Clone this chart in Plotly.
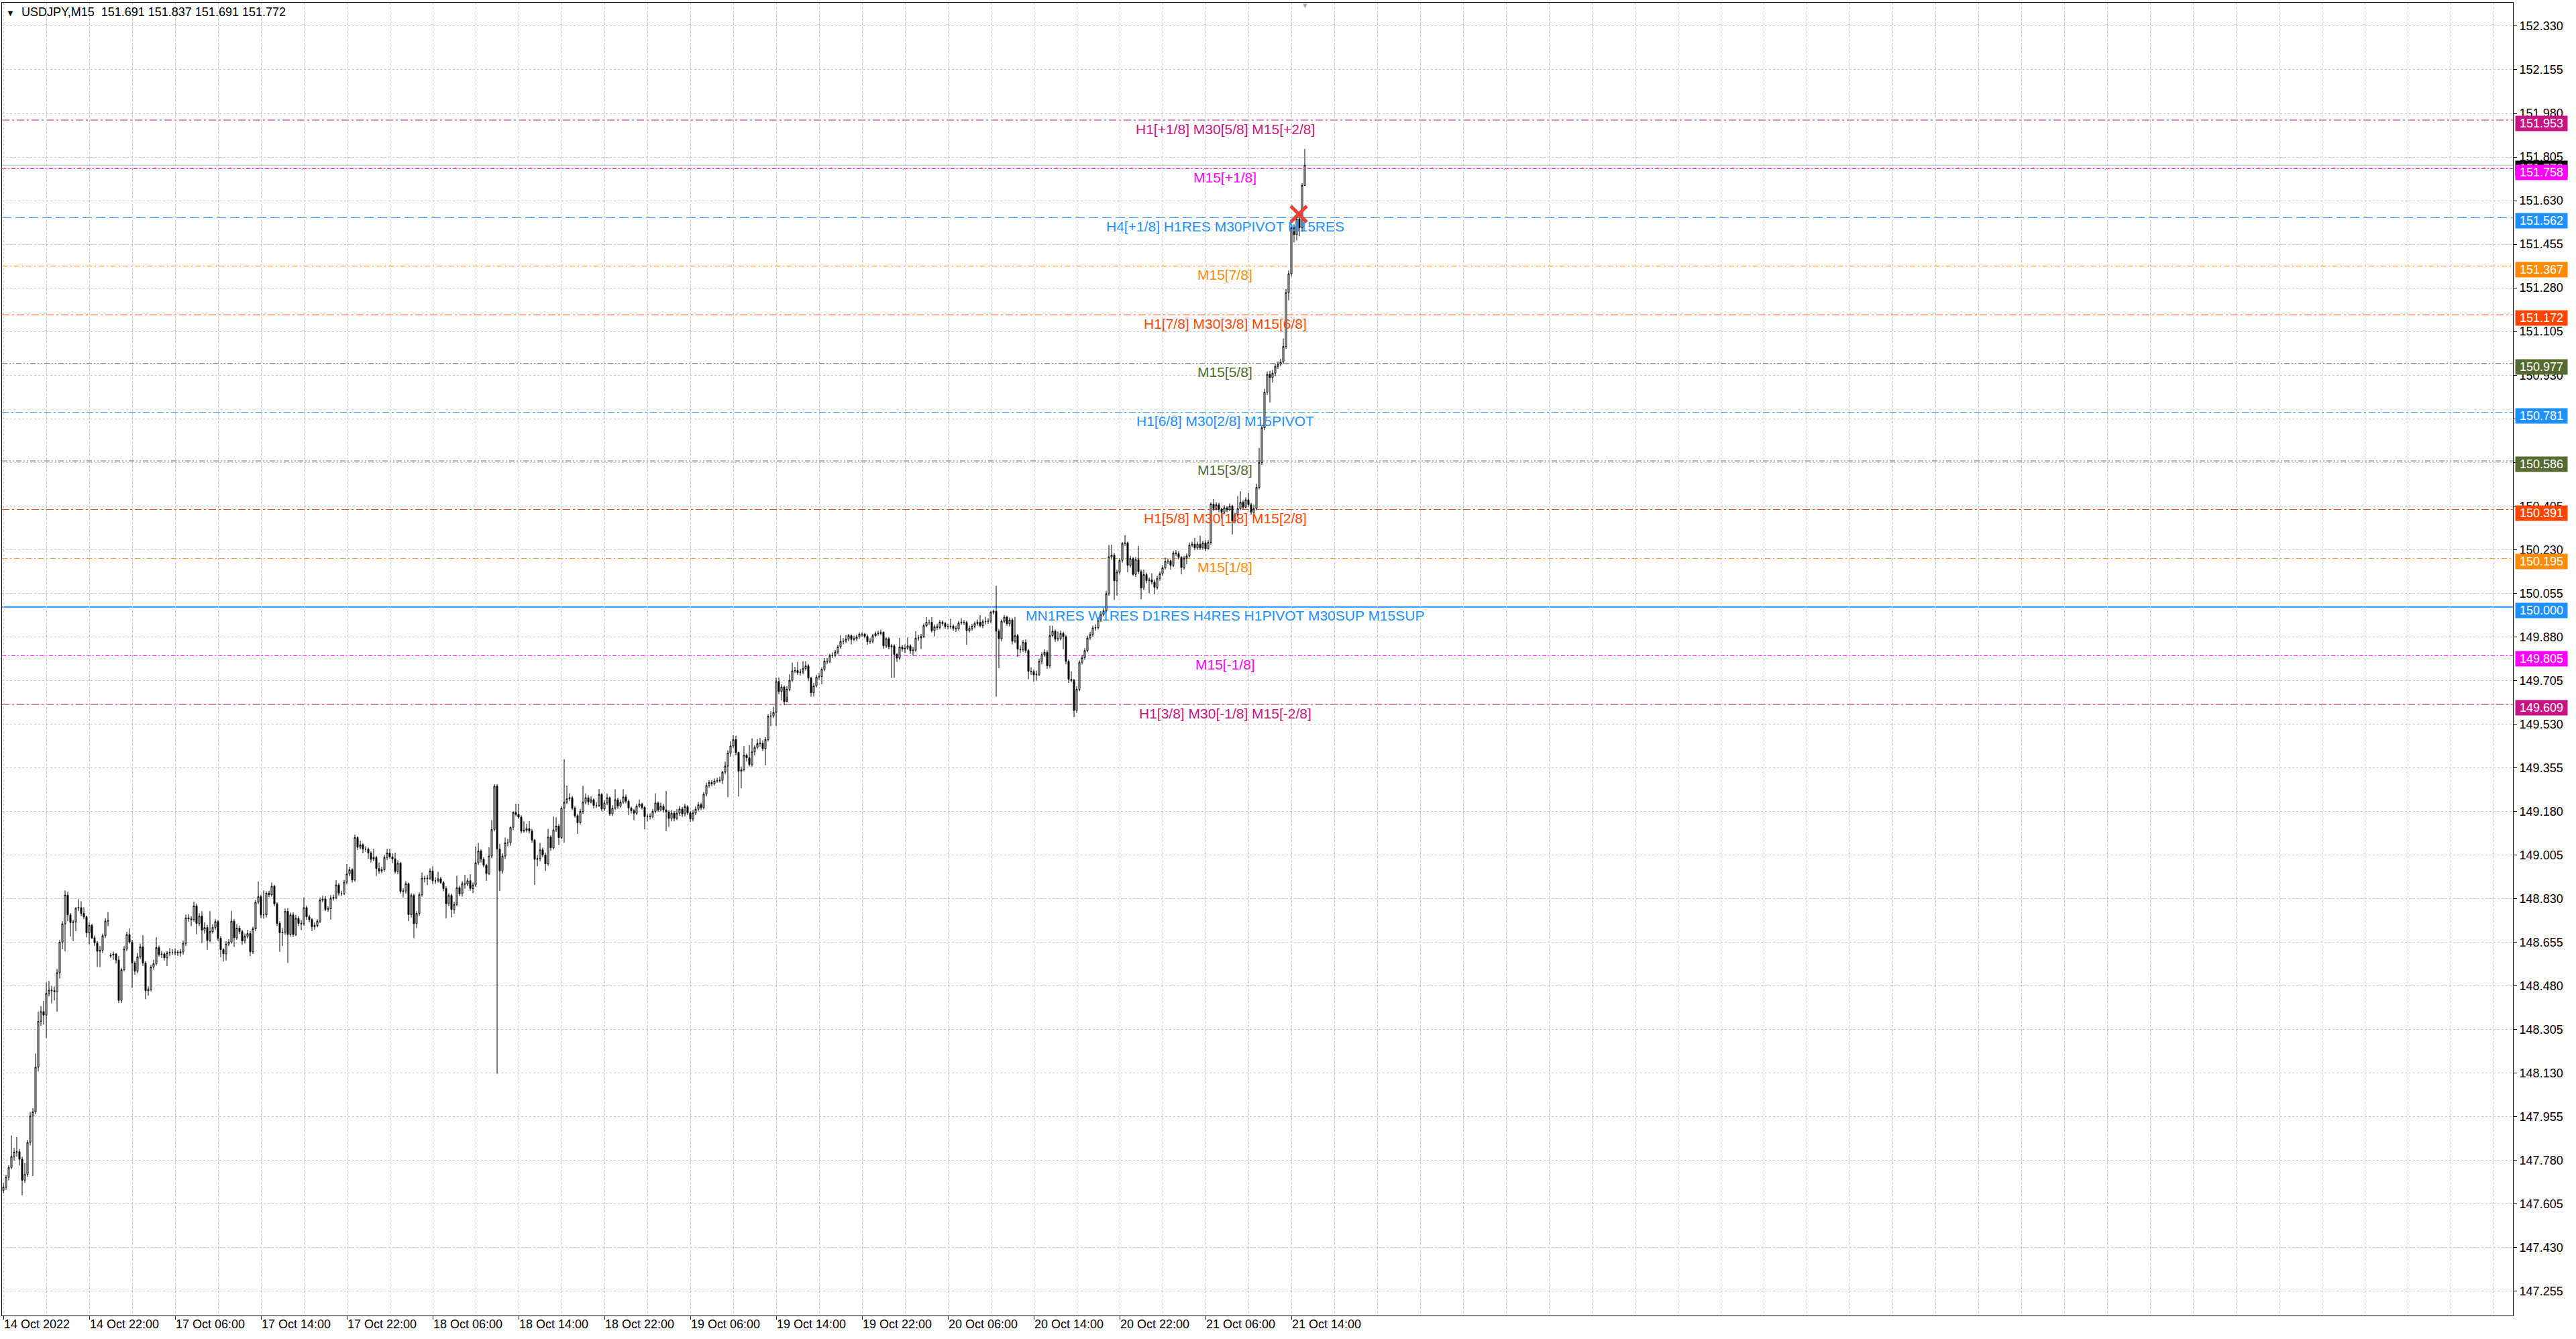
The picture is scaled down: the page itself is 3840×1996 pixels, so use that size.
import plotly.graph_objects as go

# ---------------- data ----------------
symbol = "USDJPY,M15"

opens = [
    147.660, 147.673, 147.713, 147.752, 147.796, 147.813, 147.815, 147.785, 147.701, 147.724,
    147.852, 147.958, 147.975, 148.154, 148.338, 148.377, 148.363, 148.450, 148.463, 148.461,
    148.457, 148.533, 148.656, 148.729, 148.844, 148.765, 148.734, 148.737, 148.792, 148.794,
    148.771, 148.757, 148.693, 148.723, 148.673, 148.653, 148.619, 148.623, 148.681, 148.740,
    148.600, 148.604, 148.608, 148.584, 148.422, 148.545, 148.628, 148.686, 148.656, 148.572,
    148.539, 148.597, 148.637, 148.572, 148.461, 148.466, 148.556, 148.570, 148.634, 148.606,
    148.608, 148.593, 148.612, 148.615, 148.615, 148.616, 148.612, 148.617, 148.651, 148.753,
    148.749, 148.746, 148.801, 148.731, 148.760, 148.704, 148.714, 148.662, 148.698, 148.715,
    148.738, 148.671, 148.626, 148.609, 148.648, 148.656, 148.740, 148.673, 148.712, 148.698,
    148.660, 148.679, 148.690, 148.617, 148.709, 148.816, 148.838, 148.765, 148.765, 148.852,
    148.846, 148.880, 148.809, 148.731, 148.693, 148.695, 148.779, 148.686, 148.765, 148.686,
    148.751, 148.731, 148.729, 148.794, 148.757, 148.746, 148.718, 148.723, 148.740, 148.824,
    148.829, 148.787, 148.790, 148.832, 148.835, 148.885, 148.852, 148.852, 148.896, 148.929,
    148.946, 148.905, 149.075, 149.036, 149.046, 149.029, 149.029, 149.013, 148.988, 148.995,
    148.951, 148.941, 148.946, 148.995, 149.013, 148.998, 148.990, 148.939, 148.972, 148.859,
    148.861, 148.890, 148.766, 148.843, 148.730, 148.771, 148.846, 148.912, 148.910, 148.912,
    148.941, 148.902, 148.902, 148.910, 148.895, 148.871, 148.809, 148.843, 148.787, 148.807,
    148.874, 148.849, 148.890, 148.888, 148.902, 148.871, 148.885, 148.974, 149.021, 148.988,
    148.964, 148.931, 149.001, 149.108, 149.281, 149.029, 148.941, 149.001, 149.054, 149.054,
    149.116, 149.176, 149.168, 149.157, 149.101, 149.104, 149.111, 149.101, 149.065, 148.988,
    148.991, 149.026, 149.005, 148.970, 149.077, 149.034, 149.106, 149.121, 149.075, 149.193,
    149.217, 149.231, 149.235, 149.193, 149.163, 149.135, 149.180, 149.217, 149.235, 149.217,
    149.227, 149.204, 149.204, 149.248, 149.190, 149.214, 149.235, 149.170, 149.193, 149.227,
    149.201, 149.217, 149.238, 149.221, 149.193, 149.183, 149.173, 149.201, 149.209, 149.196,
    149.159, 149.159, 149.160, 149.180, 149.214, 149.186, 149.201, 149.186, 149.178, 149.152,
    149.173, 149.152, 149.173, 149.190, 149.170, 149.199, 149.174, 149.150, 149.174, 149.189,
    149.207, 149.195, 149.249, 149.284, 149.296, 149.291, 149.302, 149.303, 149.305, 149.338,
    149.362, 149.414, 149.443, 149.468, 149.416, 149.341, 149.347, 149.405, 149.395, 149.368,
    149.419, 149.437, 149.452, 149.453, 149.432, 149.468, 149.562, 149.563, 149.577, 149.701,
    149.661, 149.679, 149.620, 149.670, 149.706, 149.744, 149.745, 149.737, 149.739, 149.753,
    149.764, 149.715, 149.656, 149.683, 149.719, 149.721, 149.750, 149.783, 149.782, 149.804,
    149.805, 149.819, 149.840, 149.862, 149.863, 149.871, 149.885, 149.870, 149.873, 149.880,
    149.891, 149.891, 149.882, 149.861, 149.862, 149.885, 149.893, 149.894, 149.898, 149.844,
    149.873, 149.840, 149.844, 149.810, 149.795, 149.840, 149.831, 149.835, 149.844, 149.825,
    149.827, 149.876, 149.876, 149.882, 149.925, 149.939, 149.939, 149.905, 149.921, 149.918,
    149.939, 149.934, 149.921, 149.921, 149.923, 149.914, 149.912, 149.936, 149.939, 149.938,
    149.905, 149.914, 149.923, 149.934, 149.939, 149.925, 149.941, 149.942, 149.943, 149.979,
    149.983, 149.903, 149.873, 149.943, 149.959, 149.933, 149.948, 149.863, 149.885, 149.831,
    149.829, 149.858, 149.825, 149.742, 149.741, 149.728, 149.730, 149.782, 149.809, 149.818,
    149.764, 149.885, 149.903, 149.871, 149.873, 149.894, 149.881, 149.782, 149.710, 149.706,
    149.585, 149.670, 149.778, 149.796, 149.825, 149.876, 149.889, 149.916, 149.917, 149.948,
    149.970, 149.984, 150.053, 150.201, 150.208, 150.105, 150.140, 150.187, 150.255, 150.257,
    150.167, 150.194, 150.131, 150.190, 150.142, 150.076, 150.130, 150.106, 150.109, 150.100,
    150.079, 150.115, 150.133, 150.157, 150.183, 150.185, 150.167, 150.217, 150.214, 150.199,
    150.158, 150.196, 150.205, 150.248, 150.252, 150.237, 150.252, 150.237, 150.257, 150.234,
    150.259, 150.413, 150.395, 150.410, 150.392, 150.380, 150.398, 150.390, 150.405, 150.345,
    150.370, 150.395, 150.420, 150.400, 150.430, 150.410, 150.380, 150.395, 150.480, 150.579,
    150.719, 150.862, 150.933, 150.920, 150.938, 150.965, 150.974, 150.983, 151.045, 151.261,
    151.337, 151.521, 151.494, 151.557, 151.521, 151.691,
]

highs = [
    147.690, 147.722, 147.760, 147.880, 147.830, 147.874, 147.826, 147.795, 147.770, 147.862,
    147.975, 147.990, 148.209, 148.377, 148.399, 148.420, 148.494, 148.500, 148.480, 148.478,
    148.548, 148.664, 148.740, 148.863, 148.858, 148.772, 148.745, 148.796, 148.828, 148.820,
    148.795, 148.762, 148.735, 148.730, 148.682, 148.660, 148.640, 148.690, 148.752, 148.776,
    148.612, 148.618, 148.612, 148.600, 148.552, 148.640, 148.697, 148.711, 148.665, 148.580,
    148.612, 148.650, 148.684, 148.580, 148.478, 148.565, 148.585, 148.675, 148.642, 148.620,
    148.615, 148.620, 148.632, 148.628, 148.630, 148.624, 148.628, 148.662, 148.766, 148.768,
    148.760, 148.818, 148.810, 148.772, 148.780, 148.735, 148.725, 148.780, 148.728, 148.748,
    148.745, 148.680, 148.632, 148.660, 148.668, 148.781, 148.748, 148.728, 148.722, 148.705,
    148.690, 148.705, 148.700, 148.718, 148.825, 148.899, 148.846, 148.863, 148.860, 148.862,
    148.895, 148.886, 148.815, 148.740, 148.712, 148.790, 148.792, 148.774, 148.775, 148.765,
    148.760, 148.745, 148.835, 148.802, 148.765, 148.752, 148.735, 148.748, 148.835, 148.842,
    148.840, 148.800, 148.844, 148.846, 148.904, 148.893, 148.862, 148.905, 148.969, 148.958,
    148.952, 149.087, 149.080, 149.062, 149.052, 149.040, 149.035, 149.020, 149.030, 149.002,
    148.975, 148.958, 149.005, 149.030, 149.030, 149.012, 149.014, 148.984, 148.978, 148.872,
    148.900, 148.895, 148.852, 148.850, 148.780, 148.855, 148.935, 148.922, 148.925, 148.952,
    148.960, 148.915, 148.938, 148.918, 148.902, 148.880, 148.852, 148.850, 148.818, 148.922,
    148.882, 148.900, 148.926, 148.912, 148.928, 148.895, 149.040, 149.054, 149.028, 148.995,
    148.970, 149.036, 149.145, 149.289, 149.289, 149.050, 149.012, 149.075, 149.070, 149.120,
    149.180, 149.211, 149.211, 149.165, 149.140, 149.130, 149.141, 149.110, 149.070, 149.005,
    149.054, 149.035, 149.015, 149.110, 149.085, 149.160, 149.156, 149.130, 149.200, 149.389,
    149.284, 149.253, 149.242, 149.200, 149.170, 149.190, 149.283, 149.252, 149.245, 149.240,
    149.232, 149.218, 149.270, 149.254, 149.225, 149.252, 149.240, 149.205, 149.269, 149.235,
    149.228, 149.269, 149.248, 149.228, 149.200, 149.190, 149.210, 149.228, 149.215, 149.202,
    149.170, 149.172, 149.190, 149.253, 149.220, 149.215, 149.210, 149.262, 149.185, 149.185,
    149.182, 149.190, 149.202, 149.198, 149.210, 149.205, 149.182, 149.186, 149.200, 149.218,
    149.215, 149.258, 149.295, 149.305, 149.306, 149.312, 149.315, 149.320, 149.342, 149.380,
    149.425, 149.462, 149.486, 149.484, 149.420, 149.360, 149.442, 149.412, 149.446, 149.473,
    149.445, 149.470, 149.475, 149.465, 149.478, 149.570, 149.582, 149.600, 149.717, 149.717,
    149.690, 149.685, 149.682, 149.730, 149.777, 149.760, 149.780, 149.752, 149.783, 149.783,
    149.772, 149.720, 149.695, 149.728, 149.735, 149.758, 149.795, 149.795, 149.812, 149.818,
    149.828, 149.848, 149.887, 149.875, 149.887, 149.892, 149.890, 149.885, 149.889, 149.898,
    149.898, 149.896, 149.890, 149.875, 149.892, 149.902, 149.905, 149.909, 149.902, 149.880,
    149.880, 149.852, 149.850, 149.815, 149.876, 149.846, 149.850, 149.878, 149.850, 149.840,
    149.903, 149.888, 149.892, 149.934, 149.959, 149.950, 149.959, 149.930, 149.932, 149.948,
    149.946, 149.940, 149.932, 149.953, 149.930, 149.925, 149.944, 149.955, 149.948, 149.945,
    149.925, 149.932, 149.942, 149.950, 149.967, 149.950, 149.960, 149.955, 149.985, 149.990,
    150.085, 149.912, 149.950, 149.968, 149.965, 149.958, 149.955, 149.960, 149.892, 149.845,
    149.868, 149.870, 149.832, 149.758, 149.750, 149.745, 149.792, 149.818, 149.830, 149.826,
    149.925, 149.925, 149.910, 149.902, 149.905, 149.900, 149.888, 149.790, 149.742, 149.712,
    149.682, 149.786, 149.808, 149.835, 149.885, 149.900, 149.925, 149.930, 149.958, 149.980,
    149.995, 150.065, 150.249, 150.250, 150.215, 150.150, 150.196, 150.260, 150.288, 150.262,
    150.205, 150.200, 150.200, 150.245, 150.150, 150.150, 150.138, 150.118, 150.135, 150.110,
    150.125, 150.142, 150.168, 150.198, 150.195, 150.190, 150.225, 150.228, 150.225, 150.205,
    150.205, 150.215, 150.259, 150.262, 150.277, 150.262, 150.286, 150.266, 150.268, 150.268,
    150.420, 150.433, 150.420, 150.418, 150.398, 150.408, 150.405, 150.415, 150.410, 150.378,
    150.445, 150.464, 150.428, 150.440, 150.458, 150.418, 150.410, 150.495, 150.638, 150.730,
    150.875, 150.945, 150.948, 150.952, 150.975, 150.985, 150.995, 151.077, 151.275, 151.350,
    151.530, 151.535, 151.583, 151.565, 151.700, 151.837,
]

lows = [
    147.648, 147.662, 147.700, 147.745, 147.780, 147.795, 147.760, 147.640, 147.690, 147.715,
    147.840, 147.718, 147.965, 148.137, 148.320, 148.325, 148.271, 148.438, 148.410, 148.422,
    148.377, 148.510, 148.627, 148.619, 148.740, 148.678, 148.660, 148.700, 148.780, 148.760,
    148.748, 148.675, 148.647, 148.668, 148.640, 148.556, 148.556, 148.612, 148.672, 148.720,
    148.592, 148.585, 148.570, 148.411, 148.412, 148.538, 148.620, 148.650, 148.472, 148.525,
    148.530, 148.588, 148.560, 148.427, 148.441, 148.458, 148.545, 148.562, 148.598, 148.592,
    148.582, 148.560, 148.600, 148.605, 148.602, 148.600, 148.598, 148.606, 148.640, 148.738,
    148.720, 148.738, 148.688, 148.720, 148.652, 148.690, 148.625, 148.655, 148.690, 148.705,
    148.660, 148.595, 148.578, 148.582, 148.640, 148.650, 148.637, 148.665, 148.688, 148.645,
    148.650, 148.670, 148.600, 148.608, 148.700, 148.808, 148.752, 148.750, 148.755, 148.836,
    148.838, 148.800, 148.720, 148.617, 148.640, 148.685, 148.572, 148.678, 148.676, 148.680,
    148.720, 148.704, 148.722, 148.745, 148.736, 148.700, 148.706, 148.715, 148.732, 148.815,
    148.780, 148.778, 148.746, 148.822, 148.828, 148.842, 148.840, 148.845, 148.888, 148.920,
    148.895, 148.898, 149.025, 149.028, 149.012, 149.018, 148.990, 148.975, 148.980, 148.921,
    148.930, 148.932, 148.938, 148.985, 148.990, 148.972, 148.930, 148.928, 148.850, 148.835,
    148.850, 148.740, 148.755, 148.672, 148.712, 148.762, 148.838, 148.895, 148.885, 148.905,
    148.888, 148.890, 148.895, 148.888, 148.860, 148.751, 148.800, 148.755, 148.770, 148.800,
    148.840, 148.838, 148.870, 148.880, 148.862, 148.852, 148.878, 148.965, 148.975, 148.955,
    148.902, 148.925, 148.992, 149.100, 148.128, 148.861, 148.930, 148.990, 149.040, 149.042,
    149.105, 149.160, 149.150, 149.092, 149.095, 149.096, 149.092, 149.055, 148.885, 148.960,
    148.980, 148.995, 148.941, 148.962, 149.022, 149.028, 149.098, 149.045, 149.068, 149.055,
    149.210, 149.222, 149.185, 149.155, 149.090, 149.128, 149.170, 149.208, 149.205, 149.212,
    149.192, 149.195, 149.198, 149.180, 149.182, 149.205, 149.163, 149.162, 149.185, 149.190,
    149.195, 149.210, 149.212, 149.165, 149.172, 149.145, 149.165, 149.195, 149.188, 149.108,
    149.140, 149.148, 149.152, 149.172, 149.178, 149.180, 149.175, 149.101, 149.118, 149.140,
    149.140, 149.145, 149.162, 149.158, 149.160, 149.165, 149.138, 149.140, 149.165, 149.180,
    149.185, 149.188, 149.240, 149.275, 149.280, 149.284, 149.295, 149.296, 149.290, 149.330,
    149.237, 149.400, 149.435, 149.405, 149.240, 149.273, 149.340, 149.380, 149.360, 149.360,
    149.405, 149.430, 149.440, 149.422, 149.365, 149.460, 149.522, 149.555, 149.522, 149.650,
    149.625, 149.607, 149.640, 149.662, 149.700, 149.735, 149.728, 149.725, 149.730, 149.745,
    149.703, 149.640, 149.640, 149.677, 149.708, 149.690, 149.742, 149.770, 149.775, 149.795,
    149.798, 149.810, 149.832, 149.850, 149.855, 149.862, 149.850, 149.862, 149.865, 149.872,
    149.880, 149.874, 149.848, 149.852, 149.855, 149.878, 149.885, 149.886, 149.832, 149.836,
    149.830, 149.715, 149.715, 149.780, 149.788, 149.820, 149.815, 149.828, 149.812, 149.805,
    149.820, 149.865, 149.831, 149.875, 149.918, 149.928, 149.898, 149.882, 149.908, 149.910,
    149.925, 149.912, 149.910, 149.912, 149.905, 149.900, 149.905, 149.928, 149.928, 149.849,
    149.898, 149.905, 149.915, 149.925, 149.918, 149.915, 149.930, 149.932, 149.935, 149.970,
    149.640, 149.755, 149.862, 149.935, 149.925, 149.922, 149.850, 149.855, 149.800, 149.815,
    149.820, 149.815, 149.710, 149.728, 149.700, 149.705, 149.722, 149.770, 149.800, 149.752,
    149.756, 149.878, 149.860, 149.862, 149.866, 149.830, 149.770, 149.695, 149.698, 149.558,
    149.575, 149.662, 149.770, 149.788, 149.818, 149.868, 149.880, 149.905, 149.910, 149.940,
    149.962, 149.978, 150.045, 150.190, 150.028, 150.045, 150.130, 150.178, 150.245, 150.140,
    150.158, 150.125, 150.120, 150.132, 150.031, 150.068, 150.095, 150.055, 150.090, 150.051,
    150.070, 150.105, 150.125, 150.150, 150.172, 150.150, 150.160, 150.205, 150.190, 150.131,
    150.150, 150.172, 150.198, 150.240, 150.228, 150.230, 150.228, 150.230, 150.225, 150.230,
    150.250, 150.385, 150.388, 150.380, 150.355, 150.372, 150.380, 150.385, 150.291, 150.335,
    150.362, 150.388, 150.392, 150.395, 150.402, 150.370, 150.372, 150.388, 150.472, 150.570,
    150.710, 150.850, 150.820, 150.900, 150.925, 150.955, 150.965, 150.975, 151.035, 151.230,
    151.325, 151.462, 151.470, 151.487, 151.505, 151.691,
]

closes = [
    147.673, 147.713, 147.752, 147.796, 147.813, 147.815, 147.785, 147.701, 147.724, 147.852,
    147.958, 147.975, 148.154, 148.338, 148.377, 148.363, 148.450, 148.463, 148.461, 148.457,
    148.533, 148.656, 148.729, 148.844, 148.765, 148.734, 148.737, 148.792, 148.794, 148.771,
    148.757, 148.693, 148.723, 148.673, 148.653, 148.619, 148.623, 148.681, 148.740, 148.742,
    148.604, 148.608, 148.584, 148.422, 148.545, 148.628, 148.686, 148.656, 148.572, 148.539,
    148.597, 148.637, 148.572, 148.461, 148.466, 148.556, 148.570, 148.634, 148.606, 148.608,
    148.593, 148.612, 148.615, 148.615, 148.616, 148.612, 148.617, 148.651, 148.753, 148.749,
    148.746, 148.801, 148.731, 148.760, 148.704, 148.714, 148.662, 148.698, 148.715, 148.738,
    148.671, 148.626, 148.609, 148.648, 148.656, 148.740, 148.673, 148.712, 148.698, 148.660,
    148.679, 148.690, 148.617, 148.709, 148.816, 148.838, 148.765, 148.765, 148.852, 148.846,
    148.880, 148.809, 148.731, 148.693, 148.695, 148.779, 148.686, 148.765, 148.686, 148.751,
    148.731, 148.729, 148.794, 148.757, 148.746, 148.718, 148.723, 148.740, 148.824, 148.829,
    148.787, 148.790, 148.832, 148.835, 148.885, 148.852, 148.852, 148.896, 148.929, 148.946,
    148.905, 149.075, 149.036, 149.046, 149.029, 149.029, 149.013, 148.988, 148.995, 148.951,
    148.941, 148.946, 148.995, 149.013, 148.998, 148.990, 148.939, 148.972, 148.859, 148.861,
    148.890, 148.766, 148.843, 148.730, 148.771, 148.846, 148.912, 148.910, 148.912, 148.941,
    148.902, 148.902, 148.910, 148.895, 148.871, 148.809, 148.843, 148.787, 148.807, 148.874,
    148.849, 148.890, 148.888, 148.902, 148.871, 148.885, 148.974, 149.021, 148.988, 148.964,
    148.931, 149.001, 149.108, 149.281, 149.029, 148.941, 149.001, 149.054, 149.054, 149.116,
    149.176, 149.168, 149.157, 149.101, 149.104, 149.111, 149.101, 149.065, 148.988, 148.991,
    149.026, 149.005, 148.970, 149.077, 149.034, 149.106, 149.121, 149.075, 149.193, 149.217,
    149.231, 149.235, 149.193, 149.163, 149.135, 149.180, 149.217, 149.235, 149.217, 149.227,
    149.204, 149.204, 149.248, 149.190, 149.214, 149.235, 149.170, 149.193, 149.227, 149.201,
    149.217, 149.238, 149.221, 149.193, 149.183, 149.173, 149.201, 149.209, 149.196, 149.159,
    149.159, 149.160, 149.180, 149.214, 149.186, 149.201, 149.186, 149.178, 149.152, 149.173,
    149.152, 149.173, 149.190, 149.170, 149.199, 149.174, 149.150, 149.174, 149.189, 149.207,
    149.195, 149.249, 149.284, 149.296, 149.291, 149.302, 149.303, 149.305, 149.338, 149.362,
    149.414, 149.443, 149.468, 149.416, 149.341, 149.347, 149.405, 149.395, 149.368, 149.419,
    149.437, 149.452, 149.453, 149.432, 149.468, 149.562, 149.563, 149.577, 149.701, 149.661,
    149.679, 149.620, 149.670, 149.706, 149.744, 149.745, 149.737, 149.739, 149.753, 149.764,
    149.715, 149.656, 149.683, 149.719, 149.721, 149.750, 149.783, 149.782, 149.804, 149.805,
    149.819, 149.840, 149.862, 149.863, 149.871, 149.885, 149.870, 149.873, 149.880, 149.891,
    149.891, 149.882, 149.861, 149.862, 149.885, 149.893, 149.894, 149.898, 149.844, 149.873,
    149.840, 149.844, 149.810, 149.795, 149.840, 149.831, 149.835, 149.844, 149.825, 149.827,
    149.876, 149.876, 149.882, 149.925, 149.939, 149.939, 149.905, 149.921, 149.918, 149.939,
    149.934, 149.921, 149.921, 149.923, 149.914, 149.912, 149.936, 149.939, 149.938, 149.905,
    149.914, 149.923, 149.934, 149.939, 149.925, 149.941, 149.942, 149.943, 149.979, 149.983,
    149.903, 149.873, 149.943, 149.959, 149.933, 149.948, 149.863, 149.885, 149.831, 149.829,
    149.858, 149.825, 149.742, 149.741, 149.728, 149.730, 149.782, 149.809, 149.818, 149.764,
    149.885, 149.903, 149.871, 149.873, 149.894, 149.881, 149.782, 149.710, 149.706, 149.585,
    149.670, 149.778, 149.796, 149.825, 149.876, 149.889, 149.916, 149.917, 149.948, 149.970,
    149.984, 150.053, 150.201, 150.208, 150.105, 150.140, 150.187, 150.255, 150.257, 150.167,
    150.194, 150.131, 150.190, 150.142, 150.076, 150.130, 150.106, 150.109, 150.100, 150.079,
    150.115, 150.133, 150.157, 150.183, 150.185, 150.167, 150.217, 150.214, 150.199, 150.158,
    150.196, 150.205, 150.248, 150.252, 150.237, 150.252, 150.237, 150.257, 150.234, 150.259,
    150.413, 150.395, 150.410, 150.392, 150.380, 150.398, 150.390, 150.405, 150.345, 150.370,
    150.395, 150.420, 150.400, 150.430, 150.410, 150.380, 150.395, 150.480, 150.579, 150.719,
    150.862, 150.933, 150.920, 150.938, 150.965, 150.974, 150.983, 151.045, 151.261, 151.337,
    151.521, 151.494, 151.557, 151.521, 151.691, 151.772,
]

# time-axis labels (bar index of each label, and its text)
x_label_bars = [0, 32, 64, 96, 128, 160, 192, 224, 256, 288, 320, 352, 384, 416, 448, 480]
x_label_texts = [
    "14 Oct 2022", "14 Oct 22:00", "17 Oct 06:00", "17 Oct 14:00", "17 Oct 22:00",
    "18 Oct 06:00", "18 Oct 14:00", "18 Oct 22:00", "19 Oct 06:00", "19 Oct 14:00",
    "19 Oct 22:00", "20 Oct 06:00", "20 Oct 14:00", "20 Oct 22:00", "21 Oct 06:00",
    "21 Oct 14:00",
]

# price-axis ticks
y_tick_values = [
    147.255, 147.430, 147.605, 147.780, 147.955, 148.130, 148.305, 148.480, 148.655, 148.830,
    149.005, 149.180, 149.355, 149.530, 149.705, 149.880, 150.055, 150.230, 150.405, 150.580,
    150.755, 150.930, 151.105, 151.280, 151.455, 151.630, 151.805, 151.980, 152.155, 152.330,
]
y_tick_texts = [
    "147.255", "147.430", "147.605", "147.780", "147.955", "148.130", "148.305", "148.480",
    "148.655", "148.830", "149.005", "149.180", "149.355", "149.530", "149.705", "149.880",
    "150.055", "150.230", "150.405", "", "", "150.930", "151.105", "151.280", "151.455",
    "151.630", "151.805", "151.980", "152.155", "152.330",
]

# Murrey-math style level lines
level_prices = [151.953, 151.758, 151.562, 151.367, 151.172, 150.977, 150.781,
                150.586, 150.391, 150.195, 150.000, 149.805, 149.609]
level_texts = [
    "H1[+1/8] M30[5/8] M15[+2/8]",
    "M15[+1/8]",
    "H4[+1/8] H1RES M30PIVOT M15RES",
    "M15[7/8]",
    "H1[7/8] M30[3/8] M15[6/8]",
    "M15[5/8]",
    "H1[6/8] M30[2/8] M15PIVOT",
    "M15[3/8]",
    "H1[5/8] M30[1/8] M15[2/8]",
    "M15[1/8]",
    "MN1RES W1RES D1RES H4RES H1PIVOT M30SUP M15SUP",
    "M15[-1/8]",
    "H1[3/8] M30[-1/8] M15[-2/8]",
]
level_colors = ["#C71585", "#FF00FF", "#1E90FF", "#FF8C00", "#FF4500", "#556B2F", "#1E90FF",
                "#556B2F", "#FF4500", "#FF8C00", "#1E90FF", "#FF00FF", "#C71585"]
level_dashes = ["11px,4px,3px,4px", "6px,3px,2px,3px", "14px,6px", "8px,4px,2px,4px",
                "11px,4px,3px,4px", "8px,3px,2px,3px,2px,3px", "10px,4px,3px,4px",
                "8px,3px,2px,3px,2px,3px", "11px,4px,3px,4px", "8px,4px,2px,4px",
                "solid", "6px,3px,2px,3px", "11px,4px,3px,4px"]
level_widths = [1, 1, 1, 1, 1, 1, 1, 1, 1, 1, 2, 1, 1]
level_label_bar = 455.25

signal_bar = 482.75
signal_price = 151.576

# ---------------- figure ----------------
FONT = "Liberation Sans"
n = len(closes)
xs = list(range(n))
X_MIN, X_MAX = -0.5, 935.25
Y_MIN, Y_MAX = 147.158, 152.424

fig = go.Figure()

fig.add_trace(go.Candlestick(
    x=xs, open=opens, high=highs, low=lows, close=closes,
    increasing=dict(line=dict(color="black", width=1), fillcolor="white"),
    decreasing=dict(line=dict(color="black", width=1), fillcolor="black"),
    whiskerwidth=0, hoverinfo="skip", showlegend=False,
))

fig.add_trace(go.Scatter(
    x=[signal_bar], y=[signal_price], mode="markers", showlegend=False, hoverinfo="skip",
    marker=dict(symbol="x-thin", size=24, line=dict(width=5, color="#E8403A")),
))

shapes = []
for p, c, d, w in zip(level_prices, level_colors, level_dashes, level_widths):
    shapes.append(dict(type="line", xref="paper", x0=0, x1=1, yref="y", y0=p, y1=p,
                       line=dict(color=c, width=w, dash=d), layer="below"))
# bid line
bid = closes[-1]
shapes.append(dict(type="line", xref="paper", x0=0, x1=1, yref="y", y0=bid, y1=bid,
                   line=dict(color="#B8B8B8", width=1), layer="below"))

annotations = []
for p, t, c in zip(level_prices, level_texts, level_colors):
    annotations.append(dict(x=level_label_bar, y=p, xref="x", yref="y", text=t,
                            showarrow=False, xanchor="center", yanchor="middle", yshift=-13,
                            font=dict(family=FONT, size=21, color=c)))

# price boxes on the right axis (bid first, then levels on top)
box_items = [(bid, "#000000")] + list(zip(level_prices, level_colors))
for p, c in box_items:
    annotations.append(dict(x=1, y=p, xref="paper", yref="y", text=f"{p:.3f}",
                            showarrow=False, xanchor="left", yanchor="middle",
                            xshift=3, yshift=-5, width=77, height=22, borderpad=0,
                            bgcolor=c, align="center",
                            font=dict(family=FONT, size=18, color="white")))

# time labels (left aligned on their tick)
for b, t in zip(x_label_bars, x_label_texts):
    annotations.append(dict(x=b, y=0, xref="x", yref="paper", text=t, showarrow=False,
                            xanchor="left", yanchor="middle", xshift=-1, yshift=-13,
                            font=dict(family=FONT, size=18, color="black")))

# header
o, h, l, c = opens[-1], highs[-1], lows[-1], closes[-1]
annotations.append(dict(x=0, y=1, xref="paper", yref="paper", text="\u25BC", showarrow=False,
                        xanchor="left", yanchor="middle", xshift=4, yshift=-15,
                        font=dict(family=FONT, size=13, color="black")))
annotations.append(dict(x=0, y=1, xref="paper", yref="paper",
                        text=f"{symbol}\u00a0\u00a0{o:.3f} {h:.3f} {l:.3f} {c:.3f}",
                        showarrow=False, xanchor="left", yanchor="middle", xshift=27, yshift=-14,
                        font=dict(family=FONT, size=18, color="black")))
# chart-shift marker at the top edge, above the last bar
annotations.append(dict(x=n - 1, y=1, xref="x", yref="paper", text="\u25BC", showarrow=False,
                        xanchor="center", yanchor="top", yshift=3, borderpad=0,
                        font=dict(family=FONT, size=11, color="#A8A8A8")))

grid_minor = [v for v in range(16, 936, 16) if v not in x_label_bars]

fig.update_layout(
    width=3840, height=1996,
    margin=dict(l=3, r=94, t=4, b=35),
    paper_bgcolor="white", plot_bgcolor="white",
    font=dict(family=FONT, size=18, color="black"),
    shapes=shapes, annotations=annotations, showlegend=False,
    xaxis=dict(
        range=[X_MIN, X_MAX], rangeslider=dict(visible=False),
        tickmode="array", tickvals=x_label_bars, showticklabels=False,
        ticks="outside", ticklen=5, tickcolor="black",
        showgrid=True, gridcolor="#C8C8C8", griddash="3px,3px", gridwidth=1,
        minor=dict(tickmode="array", tickvals=grid_minor, showgrid=True,
                   gridcolor="#C8C8C8", griddash="3px,3px", gridwidth=1, ticks=""),
        showline=True, linecolor="black", linewidth=1, mirror=True, zeroline=False,
    ),
    yaxis=dict(
        range=[Y_MIN, Y_MAX], side="right",
        tickmode="array", tickvals=y_tick_values, ticktext=y_tick_texts,
        ticks="outside", ticklen=5, tickcolor="black",
        tickfont=dict(family=FONT, size=18, color="black"),
        showgrid=True, gridcolor="#C8C8C8", griddash="3px,3px", gridwidth=1,
        showline=True, linecolor="black", linewidth=1, mirror=True, zeroline=False,
    ),
)

fig.write_html("out.html", config={"displayModeBar": False},
               post_script="document.body.style.margin='0';document.body.style.overflow='hidden';")
